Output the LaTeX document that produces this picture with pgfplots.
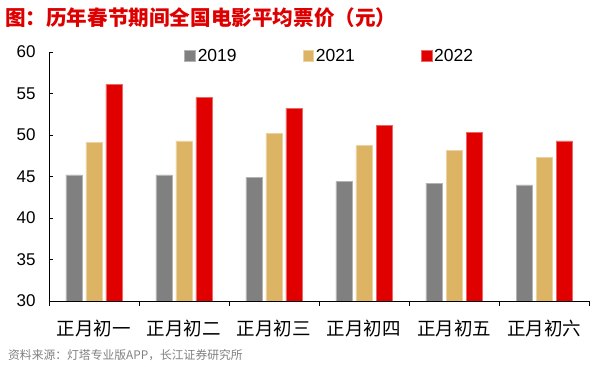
\documentclass[border=0pt]{standalone}
\usepackage{fontspec}
\setmainfont{Liberation Sans}
\newfontfamily\cjk{Noto Sans CJK SC}
\usepackage{pgfplots}
\pgfplotsset{compat=1.18}
\definecolor{cgray}{RGB}{128,128,128}
\definecolor{cgold}{RGB}{221,180,100}
\definecolor{cred}{RGB}{224,0,0}
\definecolor{ctitle}{RGB}{222,0,0}
\begin{document}
\begin{tikzpicture}
\path[use as bounding box] (-49bp,-66bp) rectangle (549bp,301bp);
\begin{axis}[
  at={(0,0)}, anchor=south west,
  scale only axis, width=540bp, height=249bp,
  xmin=-0.5, xmax=5.5, ymin=30, ymax=60,
  ytick={30,35,...,60},
  xtick={0,...,5},
  xticklabels={正月初一,正月初二,正月初三,正月初四,正月初五,正月初六},
  xticklabel style={font=\cjk\fontsize{18.5bp}{20bp}\selectfont, yshift=-11bp},
  yticklabel style={font=\fontsize{17bp}{19bp}\selectfont, xshift=-10bp},
  /pgf/number format/assume math mode=true,
  major x tick style={draw=none},
  minor xtick={-0.5,0.5,...,5.5},
  minor tick length=4.5bp,
  major tick length=4.5bp,
  tick align=inside,
  tick style={black, line width=0.8bp},
  axis x line*=bottom, axis y line*=left,
  axis line style={black, line width=0.8bp},
  ybar=4bp, bar width=16bp,
  legend columns=3,
  legend style={draw=none, fill=none, at={(0.52,0.985)}, anchor=center,
    font=\fontsize{17.5bp}{19bp}\selectfont,
    /tikz/every even column/.append style={column sep=64bp}},
  legend image code/.code={\fill[#1] (0bp,-5.3bp) rectangle (10.7bp,5.3bp);},
]
\addplot[fill=cgray, draw=cgray!60!white, line width=0.6bp] coordinates {(0,45.2) (1,45.2) (2,44.9) (3,44.4) (4,44.2) (5,44.0)};
\addplot[fill=cgold, draw=cgold!60!white, line width=0.6bp] coordinates {(0,49.1) (1,49.3) (2,50.2) (3,48.7) (4,48.1) (5,47.3)};
\addplot[fill=cred, draw=cred!60!white, line width=0.6bp] coordinates {(0,56.1) (1,54.5) (2,53.2) (3,51.2) (4,50.3) (5,49.3)};
\legend{2019,2021,2022}
\end{axis}
\node[anchor=west, inner sep=0pt, text=ctitle, font=\cjk\bfseries\fontsize{20.6bp}{22bp}\selectfont] at (-44bp,283bp) {图：历年春节期间全国电影平均票价（元）};
\node[anchor=west, inner sep=0pt, text=cgray, font=\cjk\fontsize{11.8bp}{13bp}\selectfont] at (-41bp,-54bp) {资料来源：灯塔专业版APP，长江证券研究所};
\end{tikzpicture}
\end{document}
